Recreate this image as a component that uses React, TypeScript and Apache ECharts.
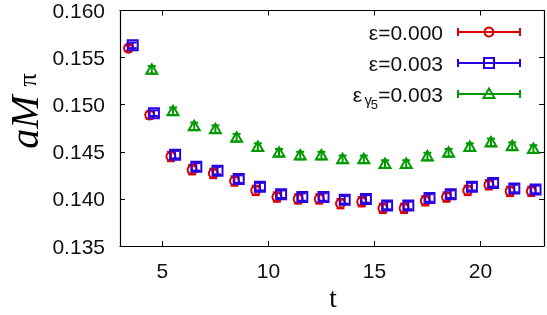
import React, { useEffect, useRef } from "react";
import * as echarts from "echarts";

const tValues = [3.5, 4.5, 5.5, 6.5, 7.5, 8.5, 9.5, 10.5, 11.5, 12.5, 13.5, 14.5, 15.5, 16.5, 17.5, 18.5, 19.5, 20.5, 21.5, 22.5];
const eps000 = [0.156, 0.1489, 0.1445, 0.1431, 0.1427, 0.1419, 0.1409, 0.1402, 0.14, 0.14, 0.1395, 0.1397, 0.139, 0.139, 0.1398, 0.1402, 0.1409, 0.1415, 0.1408, 0.1408];
const eps000Err = [0.0003, 0.0004, 0.0005, 0.0005, 0.0005, 0.0005, 0.0005, 0.0005, 0.0005, 0.0005, 0.0005, 0.0005, 0.0005, 0.0005, 0.0005, 0.0005, 0.0005, 0.0005, 0.0005, 0.0005];
const eps003 = [0.1563, 0.1491, 0.1447, 0.1434, 0.143, 0.1421, 0.1413, 0.1405, 0.1402, 0.1402, 0.1399, 0.14, 0.1393, 0.1393, 0.1401, 0.1405, 0.1413, 0.1417, 0.1411, 0.141];
const eps003Err = [0.0003, 0.0003, 0.0004, 0.0004, 0.0004, 0.0004, 0.0004, 0.0004, 0.0004, 0.0004, 0.0004, 0.0004, 0.0004, 0.0004, 0.0004, 0.0004, 0.0004, 0.0004, 0.0004, 0.0004];
const tGamma = [4.5, 5.5, 6.5, 7.5, 8.5, 9.5, 10.5, 11.5, 12.5, 13.5, 14.5, 15.5, 16.5, 17.5, 18.5, 19.5, 20.5, 21.5, 22.5];
const epsG5 = [0.1537, 0.1493, 0.1477, 0.1474, 0.1465, 0.1455, 0.1449, 0.1446, 0.1446, 0.1442, 0.1442, 0.1437, 0.1437, 0.1445, 0.1449, 0.1455, 0.146, 0.1456, 0.1453];
const epsG5Err = [0.0004, 0.0004, 0.0004, 0.0004, 0.0004, 0.0004, 0.0004, 0.0004, 0.0004, 0.0004, 0.0004, 0.0004, 0.0004, 0.0004, 0.0004, 0.0004, 0.0004, 0.0004, 0.0004];
const xTicks = [5, 10, 15, 20];
const yTicks = [0.135, 0.14, 0.145, 0.15, 0.155, 0.16];

const DODGE_RED = -0.1;
const DODGE_BLUE = 0.1;

const RED = "#dd0000";
const BLUE = "#2a00e0";
const GREEN = "#009a00";

type Shape = "circle" | "square" | "triangle";

function markerEl(shape: Shape, cx: number, cy: number, color: string) {
  const style = { stroke: color, fill: "none", lineWidth: 2 };
  if (shape === "circle") return { type: "circle", shape: { cx, cy, r: 4.5 }, style };
  if (shape === "square") return { type: "rect", shape: { x: cx - 5, y: cy - 5, width: 10, height: 10 }, style };
  return {
    type: "polygon",
    shape: { points: [[cx, cy - 5.5], [cx + 5.5, cy + 4], [cx - 5.5, cy + 4]] },
    style,
  };
}

function errSeries(name: string, xs: number[], ys: number[], es: number[], dodge: number, color: string, shape: Shape) {
  return {
    type: "custom",
    name,
    xAxisIndex: 0,
    yAxisIndex: 0,
    data: xs.map((t, i) => [t + dodge, ys[i], es[i]]),
    renderItem: (params: any, api: any) => {
      const x = api.value(0);
      const y = api.value(1);
      const e = api.value(2);
      const c = api.coord([x, y]);
      const lo = api.coord([x, y - e]);
      const hi = api.coord([x, y + e]);
      const lineStyle = { stroke: color, lineWidth: 2 };
      return {
        type: "group",
        children: [
          { type: "line", shape: { x1: c[0], y1: lo[1], x2: c[0], y2: hi[1] }, style: lineStyle },
          { type: "line", shape: { x1: c[0] - 4, y1: lo[1], x2: c[0] + 4, y2: lo[1] }, style: lineStyle },
          { type: "line", shape: { x1: c[0] - 4, y1: hi[1], x2: c[0] + 4, y2: hi[1] }, style: lineStyle },
          markerEl(shape, c[0], c[1], color),
        ],
      };
    },
  };
}

function legendRow(y: number, color: string, shape: Shape) {
  const ls = { stroke: color, lineWidth: 2 };
  return [
    { type: "line", shape: { x1: 458, y1: y, x2: 520, y2: y }, style: ls },
    { type: "line", shape: { x1: 458, y1: y - 4, x2: 458, y2: y + 4 }, style: ls },
    { type: "line", shape: { x1: 520, y1: y - 4, x2: 520, y2: y + 4 }, style: ls },
    markerEl(shape, 489, y, color),
  ];
}

const SANS = "'Liberation Sans', Arial, Helvetica, sans-serif";
const SERIF = "'Liberation Serif', 'Times New Roman', serif";

export default function App() {
  const ref = useRef<HTMLDivElement>(null);
  useEffect(() => {
    if (!ref.current) return;
    const chart = echarts.init(ref.current, null, { renderer: "svg" });
    const labelStyle = { fontFamily: SANS, fontSize: 21, color: "#111" };
    const legendText = (text: string, x: number, y: number, size: number) => ({
      type: "text",
      x,
      y,
      style: { text, fontFamily: SANS, fontSize: size, fill: "#111", textAlign: "right", textVerticalAlign: "middle" },
    });
    chart.setOption({
      animation: false,
      grid: { left: 120, right: 3, top: 10, bottom: 69 },
      xAxis: [
        {
          type: "value",
          min: 3,
          max: 23,
          position: "bottom",
          axisLine: { lineStyle: { color: "#000", width: 1.2 } },
          axisTick: { inside: true, length: 5, customValues: xTicks, lineStyle: { color: "#000" } },
          axisLabel: { customValues: xTicks, margin: 14, ...labelStyle },
          splitLine: { show: false },
        },
        {
          type: "value",
          min: 3,
          max: 23,
          position: "top",
          axisLine: { lineStyle: { color: "#000", width: 1.2 } },
          axisTick: { inside: true, length: 5, customValues: xTicks, lineStyle: { color: "#000" } },
          axisLabel: { show: false },
          splitLine: { show: false },
        },
      ],
      yAxis: [
        {
          type: "value",
          min: 0.135,
          max: 0.16,
          interval: 0.005,
          position: "left",
          axisLine: { show: true, lineStyle: { color: "#000", width: 1.2 } },
          axisTick: { show: true, inside: true, length: 5, customValues: yTicks, lineStyle: { color: "#000" } },
          axisLabel: { customValues: yTicks, margin: 15, formatter: (v: number) => v.toFixed(3), ...labelStyle },
          splitLine: { show: false },
        },
        {
          type: "value",
          min: 0.135,
          max: 0.16,
          interval: 0.005,
          position: "right",
          axisLine: { show: true, lineStyle: { color: "#000", width: 1.2 } },
          axisTick: { show: true, inside: true, length: 5, customValues: yTicks, lineStyle: { color: "#000" } },
          axisLabel: { show: false },
          splitLine: { show: false },
        },
      ],
      series: [
        errSeries("ε=0.000", tValues, eps000, eps000Err, DODGE_RED, RED, "circle"),
        errSeries("ε=0.003", tValues, eps003, eps003Err, DODGE_BLUE, BLUE, "square"),
        errSeries("εγ5=0.003", tGamma, epsG5, epsG5Err, 0, GREEN, "triangle"),
      ],
      graphic: [
        legendText("ε=0.000", 443, 32, 21),
        legendText("ε=0.003", 443, 63, 21),
        legendText("=0.003", 443, 94, 21),
        legendText("5", 378, 104, 13),
        legendText("γ", 372, 99, 15),
        legendText("ε", 362, 94, 21),
        ...legendRow(32, RED, "circle"),
        ...legendRow(63, BLUE, "square"),
        ...legendRow(94, GREEN, "triangle"),
        {
          type: "text",
          x: 333,
          y: 298,
          style: { text: "t", fontFamily: SERIF, fontSize: 27, fill: "#000", textAlign: "center", textVerticalAlign: "middle" },
        },
        {
          type: "text",
          x: 24,
          y: 122,
          rotation: Math.PI / 2,
          style: { text: "aM", fontFamily: SERIF, fontStyle: "italic", fontSize: 40, fill: "#000", textAlign: "center", textVerticalAlign: "middle" },
        },
        {
          type: "text",
          x: 27,
          y: 80,
          rotation: Math.PI / 2,
          style: { text: "π", fontFamily: SERIF, fontSize: 26, fill: "#000", textAlign: "center", textVerticalAlign: "middle" },
        },
      ],
    });
    return () => chart.dispose();
  }, []);
  return <div ref={ref} style={{ position: "fixed", left: 0, top: 0, width: 547, height: 315 }} />;
}
